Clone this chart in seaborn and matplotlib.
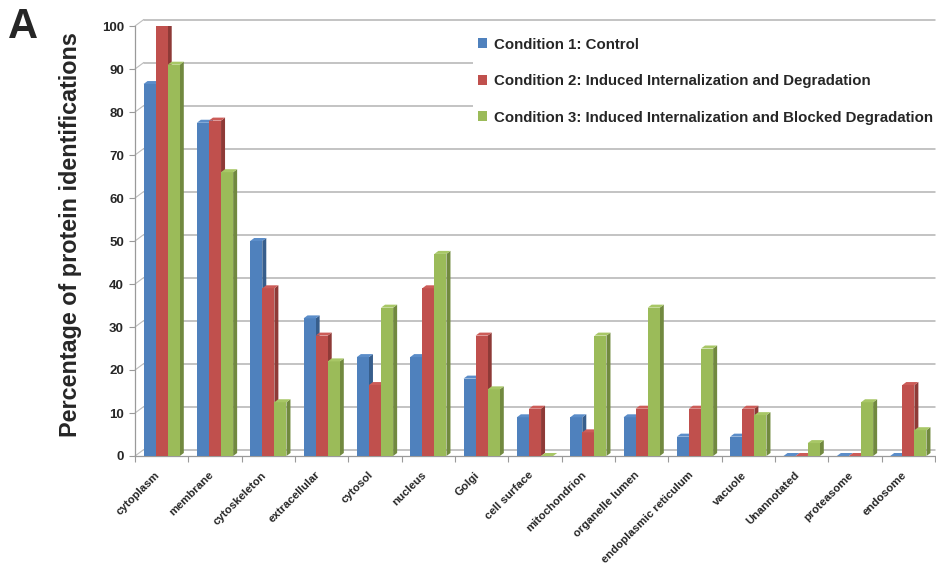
import numpy as np
import pandas as pd
import seaborn as sns
import matplotlib.pyplot as plt
from matplotlib.patches import Polygon

# Subcellular locations of the identified proteins
categories = ["cytoplasm", "membrane", "cytoskeleton", "extracellular", "cytosol",
              "nucleus", "Golgi", "cell surface", "mitochondrion", "organelle lumen",
              "endoplasmic reticulum", "vacuole", "Unannotated", "proteasome", "endosome"]

conditions = ["Condition 1: Control",
              "Condition 2: Induced Internalization and Degradation",
              "Condition 3: Induced Internalization and Blocked Degradation"]

# Percentage of protein identifications per condition
control     = [86.5, 77.5, 50.0, 32.0, 23.0, 23.0, 18.0, 9.0, 9.0, 9.0, 4.5, 4.5, 0.0, 0.0, 0.0]
degradation = [100.0, 78.0, 39.0, 28.0, 16.5, 39.0, 28.0, 11.0, 5.5, 11.0, 11.0, 11.0, 0.0, 0.0, 16.5]
blocked     = [91.0, 66.0, 12.5, 22.0, 34.5, 47.0, 15.5, 0.0, 28.0, 34.5, 25.0, 9.5, 3.0, 12.5, 6.0]

front_colors = ["#4F81BD", "#C0504D", "#9BBB59"]
side_colors = ["#375E8C", "#8E3A37", "#71893F"]
top_colors = ["#5B8DC9", "#CC5C58", "#A8C766"]

df = pd.DataFrame({
    "Location": categories * 3,
    "Percent": control + degradation + blocked,
    "Condition": [c for c in conditions for _ in categories],
})

sns.set_theme(style="white")
plt.rcParams["font.family"] = ["Liberation Sans", "DejaVu Sans"]
plt.rcParams["font.weight"] = "bold"

W, H, DPI = 936, 567, 100
AX_W_PX, AX_H_PX = 800, 430
fig = plt.figure(figsize=(W / DPI, H / DPI), dpi=DPI)
ax = fig.add_axes([135 / W, 111 / H, AX_W_PX / W, AX_H_PX / H])

sns.barplot(data=df, x="Location", y="Percent", hue="Condition",
            order=categories, hue_order=conditions, palette=front_colors,
            saturation=1, width=0.68, linewidth=0, ax=ax)

ax.set_xlim(-0.5, len(categories) - 0.5)
ax.set_ylim(0, 100)

# Pseudo-3D depth: side and top faces derived from each bar's geometry
dx = 4.0 * len(categories) / AX_W_PX
dy = 3.0 * 100 / AX_H_PX
for i, cont in enumerate(ax.containers):
    for bar in cont:
        x0, w, h = bar.get_x(), bar.get_width(), bar.get_height()
        x1 = x0 + w
        bar.set_zorder(3 + i + 0.5)
        side = Polygon([(x1, 0), (x1 + dx, dy), (x1 + dx, h + dy), (x1, h)],
                       closed=True, facecolor=side_colors[i], edgecolor="none",
                       zorder=3 + i)
        top = Polygon([(x0, h), (x0 + dx, h + dy), (x1 + dx, h + dy), (x1, h)],
                      closed=True, facecolor=top_colors[i], edgecolor="none",
                      zorder=3 + i + 0.6)
        ax.add_patch(side)
        ax.add_patch(top)

# Back-wall gridlines, raised behind the bars, joined to the axis by short diagonals
yticks = np.arange(0, 101, 10)
lift = 6.5 * 100 / AX_H_PX
ytrans = ax.get_yaxis_transform()
for v in yticks:
    ax.plot([0.011, 1.0], [v + lift, v + lift], transform=ytrans, color="#b3b3b3",
            lw=1.1, zorder=1, clip_on=False)
    ax.plot([0.0, 0.011], [v, v + lift], transform=ytrans,
            color="#bdbdbd", lw=0.8, zorder=1, clip_on=False)

ax.set_yticks(yticks)
ax.set_yticklabels([str(v) for v in yticks], fontsize=9.5, fontweight="bold")
ax.tick_params(axis="y", length=4, width=0.8, color="#9a9a9a", left=True, pad=4)

ax.set_xticks(range(len(categories)))
ax.set_xticklabels(categories, rotation=45, ha="right", va="bottom",
                   rotation_mode="anchor", fontsize=8.2, fontweight="bold")
ax.set_xticks(np.arange(-0.5, len(categories), 1), minor=True)
ax.tick_params(axis="x", which="major", length=0, pad=15)
ax.tick_params(axis="x", which="minor", length=4, width=0.8, color="#9a9a9a", bottom=True)

for side_name in ["top", "right"]:
    ax.spines[side_name].set_visible(False)
for side_name in ["left", "bottom"]:
    ax.spines[side_name].set_color("#9a9a9a")
    ax.spines[side_name].set_linewidth(0.9)

ax.set_xlabel("")
ax.set_ylabel("Percentage of protein identifications", fontsize=16.8,
              fontweight="bold", labelpad=14)
ax.yaxis.label.set_y(0.514)

sns.move_legend(ax, "upper left", bbox_to_anchor=(473 / W, 1 - 33 / H),
                bbox_transform=fig.transFigure, title=None, frameon=True,
                facecolor="white", edgecolor="none", framealpha=1,
                handlelength=0.65, handleheight=0.65, handletextpad=0.45,
                labelspacing=1.5, borderpad=0.3, borderaxespad=0,
                prop={"size": 10.85, "weight": "bold"})
ax.get_legend().set_zorder(10)

fig.text(8 / W, 1 - 38 / H, "A", fontsize=30, fontweight="bold")

fig.savefig("out.png", dpi=DPI)
